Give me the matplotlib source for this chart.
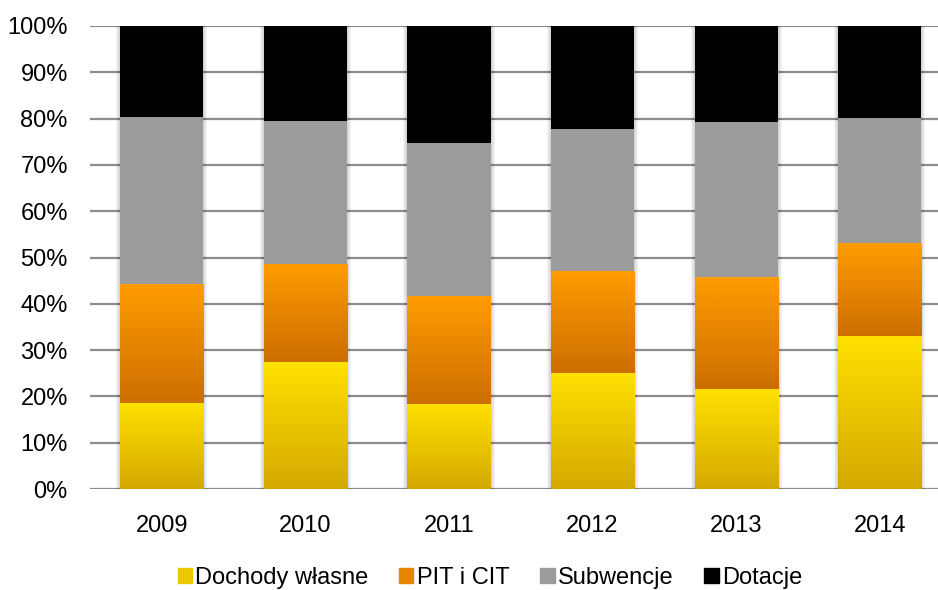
import numpy as np
import matplotlib
matplotlib.use('Agg')
import matplotlib.pyplot as plt
from matplotlib.colors import LinearSegmentedColormap
from matplotlib.ticker import PercentFormatter

plt.rcParams['font.family'] = ['Liberation Sans', 'DejaVu Sans']

years = ['2009', '2010', '2011', '2012', '2013', '2014']
dochody = [18.6, 27.4, 18.4, 25.1, 21.6, 33.1]
pit_cit = [25.7, 21.2, 23.3, 22.0, 24.2, 20.0]
subwencje = [36.1, 30.9, 33.0, 30.7, 33.5, 27.0]
dotacje = [19.6, 20.5, 25.3, 22.2, 20.7, 19.9]
labels = ['Dochody własne', 'PIT i CIT', 'Subwencje', 'Dotacje']

# (top colour, bottom colour) for each series
colours = [('#FFE100', '#D4A900'), ('#FF9C00', '#CC6E00'),
           ('#9B9B9B', '#9B9B9B'), ('#000000', '#000000')]
legend_colours = ['#EDC800', '#E58500', '#9B9B9B', '#000000']

fig = plt.figure(figsize=(9.38, 5.90), dpi=100)
ax = fig.add_axes([90 / 938, 101 / 590, 1 - 90 / 938, 463 / 590])

x = np.arange(len(years))
width = 0.578
px_x = 1 / 143.6   # one pixel in data units
px_y = 100 / 463

# soft shadow around each column
totals = np.array(dochody) + np.array(pit_cit) + np.array(subwencje) + np.array(dotacje)
for xi, tot in zip(x, totals):
    for k in range(1, 5):
        ax.add_patch(plt.Rectangle((xi - width / 2 - k * px_x, -k * px_y),
                                   width + 2 * k * px_x, tot + k * px_y,
                                   color='black', alpha=0.045, linewidth=0, zorder=2))

bottom = np.zeros(len(years))
for series, (top_c, bot_c), name in zip([dochody, pit_cit, subwencje, dotacje], colours, labels):
    vals = np.array(series)
    bars = ax.bar(x, vals, width, bottom=bottom, color=top_c, zorder=3, linewidth=0)
    if top_c != bot_c:
        cmap = LinearSegmentedColormap.from_list(name, [bot_c, top_c])
        grad = np.linspace(0, 1, 256).reshape(-1, 1)
        for b in bars:
            bx, by = b.get_x(), b.get_y()
            im = ax.imshow(grad, cmap=cmap, origin='lower', aspect='auto',
                           extent=[bx, bx + b.get_width(), by, by + b.get_height()],
                           zorder=3.5)
            im.set_clip_path(b)
    bottom += vals

ax.set_xlim(-0.5, -0.5 + 848 / 143.6)
ax.set_ylim(0, 100)
ax.set_yticks(np.arange(0, 101, 10))
ax.yaxis.set_major_formatter(PercentFormatter(decimals=0))
ax.set_xticks(x)
ax.set_xticklabels(years)
ax.grid(axis='y', color='#8C8C8C', linewidth=1.6, zorder=0)
for s in ax.spines.values():
    s.set_visible(False)
ax.tick_params(axis='both', length=0, labelsize=17, colors='black')
ax.tick_params(axis='y', pad=16)
ax.tick_params(axis='x', pad=19)

fig.legend([plt.Rectangle((0, 0), 1, 1, color=c) for c in legend_colours],
           labels, loc='center', bbox_to_anchor=(490 / 938, 1 - 578 / 590), ncol=4,
           frameon=False, fontsize=17, handlelength=0.6, handleheight=0.6,
           handletextpad=0.15, columnspacing=1.3)

fig.savefig('out.png', dpi=100)
